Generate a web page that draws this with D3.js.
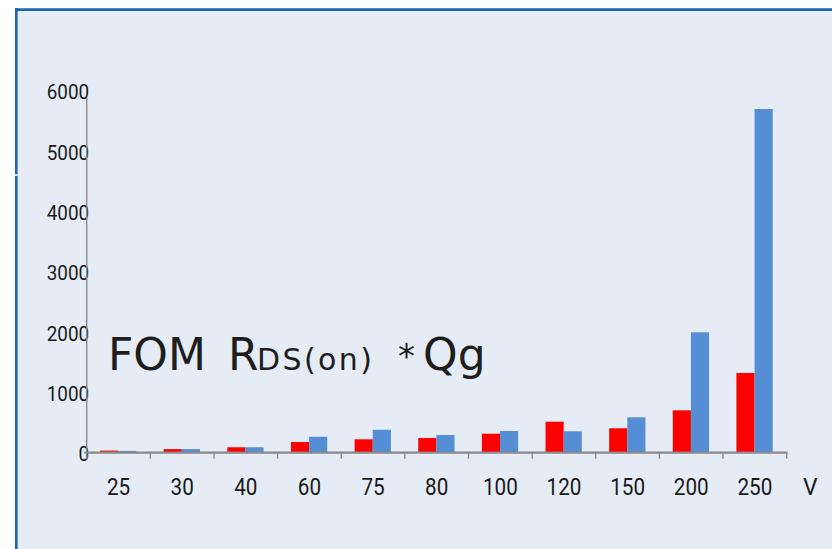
<!DOCTYPE html>
<html>
<head>
<meta charset="utf-8">
<script src="https://cdn.jsdelivr.net/npm/d3@7/dist/d3.min.js"></script>
<style>
html,body{margin:0;padding:0;background:#fff;}
svg{display:block;}
</style>
</head>
<body>
<svg id="chart" width="832" height="549"></svg>
<script>
const categories = ["25","30","40","60","75","80","100","120","150","200","250"];
const seriesRed  = [35, 60, 90, 177, 222, 244, 315, 514, 405, 703, 1322];
const seriesBlue = [30, 60, 90, 265, 381, 294, 360, 355, 587, 1997, 5700];
const yTicks = [0,1000,2000,3000,4000,5000,6000];
const unitLabel = "V";

const svg = d3.select("#chart");
const W = 832, H = 549;

// panel background and border
svg.append("rect").attr("x",16).attr("y",9).attr("width",W-16).attr("height",H-9).attr("fill","#e5ecf5");
svg.append("line").attr("x1",16.3).attr("x2",16.3).attr("y1",8).attr("y2",H).attr("stroke","#1c63b6").attr("stroke-width",2.6);
svg.append("line").attr("x1",15).attr("x2",W).attr("y1",9.6).attr("y2",9.6).attr("stroke","#1c63b6").attr("stroke-width",2.6);
svg.append("rect").attr("x",14).attr("y",174.3).attr("width",4).attr("height",1.5).attr("fill","#ffffff");

const x0 = 86.7, x1 = 786.7, yBase = 452.7, yTop = 90.9;
const x = d3.scaleBand().domain(categories).range([x0, x1]).paddingInner(0).paddingOuter(0);
const y = d3.scaleLinear().domain([0, 6000]).range([yBase, yTop]);
const bw = x.bandwidth();
const xs = d3.scaleBand().domain(["red","blue"]).range([bw*0.21, bw*0.78]);

const data = categories.map((c,i)=>({c, red:seriesRed[i], blue:seriesBlue[i]}));
const colors = {red:"#ff0000", blue:"#558ed5"};

const g = svg.append("g");
const groups = g.selectAll("g.grp").data(data).enter().append("g").attr("class","grp")
  .attr("transform", d=>`translate(${x(d.c)},0)`);
groups.selectAll("rect").data(d=>["red","blue"].map(k=>({k, v:d[k]}))).enter().append("rect")
  .attr("x", d=>xs(d.k)).attr("width", xs.bandwidth())
  .attr("y", d=>y(d.v)).attr("height", d=>yBase - y(d.v))
  .attr("fill", d=>colors[d.k]);

const lf = "Roboto, 'Noto Sans', sans-serif";

// y axis
const yAxis = d3.axisLeft(y).tickValues(yTicks).tickSize(0).tickPadding(0).tickFormat(d3.format("d"));
const ya = svg.append("g").attr("transform",`translate(${x0},0)`).call(yAxis);
ya.select(".domain").remove();
ya.selectAll("text").attr("x",2.8).attr("dy","0.38em").attr("transform","scale(0.9,1)")
  .attr("font-family",lf).attr("font-size",21).attr("fill","#1a1a1a");
svg.append("line").attr("x1",x0).attr("x2",x0).attr("y1",y(6000)+7).attr("y2",yBase)
  .attr("stroke","#8a8a8a").attr("stroke-width",1.4);

// x axis
const xAxis = d3.axisBottom(x).tickSize(0).tickPadding(0);
const xa = svg.append("g").attr("transform",`translate(0,${yBase})`).call(xAxis);
xa.select(".domain").remove();
xa.selectAll("text").attr("y",42).attr("dy",0).attr("transform","scale(0.88,1)")
  .attr("font-family",lf).attr("font-size",23.5).attr("fill","#1a1a1a");
svg.append("line").attr("x1",x0-2.5).attr("x2",x1+0.8).attr("y1",yBase).attr("y2",yBase)
  .attr("stroke","#8a8a8a").attr("stroke-width",2.2);
const bounds = categories.map(c=>x(c)).concat([x1]);
svg.selectAll("line.tk").data(bounds).enter().append("line").attr("class","tk")
  .attr("x1",d=>d).attr("x2",d=>d).attr("y1",yBase).attr("y2",yBase+6)
  .attr("stroke","#8a8a8a").attr("stroke-width",1.4);

svg.append("text").attr("x",803).attr("y",494.5).text(unitLabel)
  .attr("font-family",lf).attr("font-size",23).attr("fill","#1a1a1a");

// title
const tf = "'DejaVu Sans', sans-serif";
const tc = "#1e1e1e";
svg.append("text").attr("x",108).attr("y",370).attr("font-family",tf).attr("font-size",44).attr("fill",tc).text("FOM");
svg.append("text").attr("x",228).attr("y",370).attr("font-family",tf).attr("font-size",44).attr("fill",tc).text("R");
svg.append("text").attr("x",257).attr("y",370).attr("font-family",tf).attr("font-size",30).attr("fill",tc).attr("letter-spacing",2.4).text("DS(on)");
svg.append("text").attr("x",398).attr("y",368).attr("font-family",tf).attr("font-size",34).attr("fill",tc).text("*");
svg.append("text").attr("x",423).attr("y",370).attr("font-family",tf).attr("font-size",44).attr("fill",tc).text("Qg");
</script>
</body>
</html>
